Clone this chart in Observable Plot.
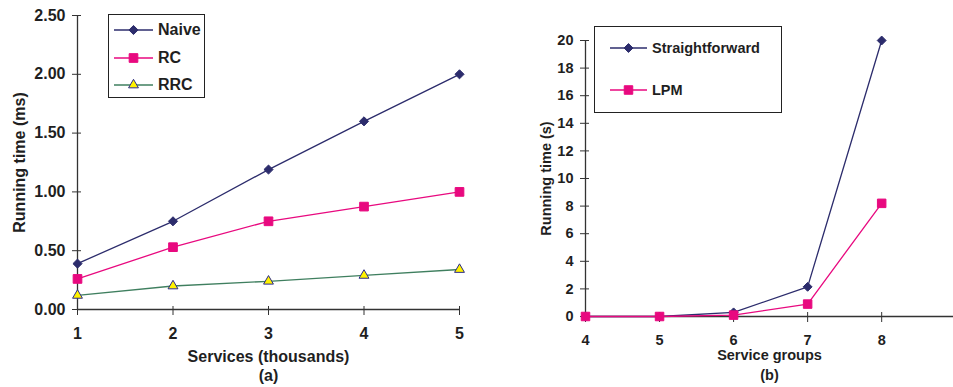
<!DOCTYPE html>
<html>
<head>
<meta charset="utf-8">
<script src="https://cdn.jsdelivr.net/npm/d3@7"></script>
<script src="https://cdn.jsdelivr.net/npm/@observablehq/plot@0.6"></script>
<style>
  html, body { margin: 0; padding: 0; background: #fff; }
  #wrap { position: relative; width: 953px; height: 387px; overflow: hidden; font-family: "Liberation Sans", Arial, sans-serif; font-weight: bold; color: #1f1f1f; }
  .panel { position: absolute; top: 0; }
  .legend { position: absolute; border: 1.5px solid #222; background: #fff; box-sizing: border-box; }
  .legend .row { position: absolute; display: flex; align-items: center; white-space: nowrap; }
  .legend svg { display: block; overflow: visible; }
</style>
</head>
<body>
<div id="wrap"></div>
<script>
// ---- Panel (a) data ----
const servicesK = [1, 2, 3, 4, 5];
const naive = [0.39, 0.75, 1.19, 1.60, 2.00];
const rc    = [0.26, 0.53, 0.75, 0.875, 1.00];
const rrc   = [0.12, 0.20, 0.24, 0.29, 0.34];
const seriesA = ["Naive", "RC", "RRC"];
const yTicksA = [0, 0.5, 1.0, 1.5, 2.0, 2.5];

// ---- Panel (b) data ----
const groups = [4, 5, 6, 7, 8];
const straightforward = [0, 0, 0.3, 2.15, 20.0];
const lpm             = [0, 0, 0.1, 0.9, 8.2];
const seriesB = ["Straightforward", "LPM"];
const yTicksB = [0, 2, 4, 6, 8, 10, 12, 14, 16, 18, 20];

// ---- styles ----
const NAVY = "#2c2c6c", PINK = "#e8097f", GREEN = "#3f7f5f", YELLOW = "#fff200", TRI_STROKE = "#2b2b8b";
const styleA = {
  Naive: {line: NAVY, symbol: "diamond2", fill: NAVY, stroke: NAVY, r: 4.1},
  RC:    {line: PINK, symbol: "square", fill: PINK, stroke: PINK, r: 4.9},
  RRC:   {line: GREEN, symbol: "triangle2", fill: YELLOW, stroke: TRI_STROKE, r: 4.7}
};
const styleB = {
  Straightforward: {line: NAVY, symbol: "diamond2", fill: NAVY, stroke: NAVY, r: 4.0},
  LPM:             {line: PINK, symbol: "square", fill: PINK, stroke: PINK, r: 4.8}
};

const dataA = [];
[naive, rc, rrc].forEach((vals, i) => servicesK.forEach((x, j) => dataA.push({series: seriesA[i], x, y: vals[j]})));
const dataB = [];
[straightforward, lpm].forEach((vals, i) => groups.forEach((x, j) => dataB.push({series: seriesB[i], x, y: vals[j]})));

const FONT = "'Liberation Sans', Arial, Helvetica, sans-serif";

function seriesMarks(data, names, styles) {
  const marks = [];
  for (const name of names) {
    const s = styles[name];
    const d = data.filter(e => e.series === name);
    marks.push(Plot.line(d, {x: "x", y: "y", stroke: s.line, strokeWidth: 1.3}));
    marks.push(Plot.dot(d, {x: "x", y: "y", symbol: () => s.symbol, r: s.r, fill: s.fill, stroke: s.stroke, strokeWidth: 1}));
  }
  return marks;
}

// ---- Panel (a) ----
const plotA = Plot.plot({
  width: 490, height: 387,
  marginLeft: 77, marginRight: 31, marginTop: 15, marginBottom: 78,
  style: {fontFamily: FONT, fontSize: "16px", fontWeight: "bold", color: "#1f1f1f", background: "transparent", overflow: "visible"},
  x: {domain: [1, 5]},
  y: {domain: [0, 2.5]},
  marks: [
    Plot.axisY({ticks: yTicksA, tickFormat: d3.format(".2f"), tickSize: 5, tickPadding: 7, stroke: "#333",
                label: "Running time (ms)", labelAnchor: "center", labelOffset: 64, labelArrow: "none"}),
    Plot.axisY({ticks: yTicksA, tickFormat: () => "", tickSize: -4, stroke: "#333", label: null}),
    Plot.axisX({ticks: servicesK, tickFormat: d => String(d), tickSize: 6, tickPadding: 12, stroke: "#333", label: null}),
    Plot.axisX({ticks: servicesK, tickFormat: () => "", tickSize: -3, stroke: "#333", label: null}),
    Plot.ruleX([1], {stroke: "#333", strokeWidth: 1.3}),
    Plot.ruleY([0], {stroke: "#333", strokeWidth: 1.3}),
    Plot.text(["Services (thousands)"], {frameAnchor: "bottom", lineAnchor: "top", dy: 41, fontSize: 16}),
    Plot.text(["(a)"], {frameAnchor: "bottom", lineAnchor: "top", dy: 60, fontSize: 16}),
    ...seriesMarks(dataA, seriesA, styleA)
  ]
});

// ---- Panel (b) ----
const plotB = Plot.plot({
  width: 463, height: 387,
  marginLeft: 95, marginRight: 0, marginTop: 40, marginBottom: 71,
  style: {fontFamily: FONT, fontSize: "14.5px", fontWeight: "bold", color: "#1f1f1f", background: "transparent", overflow: "visible"},
  x: {domain: [4, 8.97]},
  y: {domain: [0, 20]},
  marks: [
    Plot.axisY({ticks: yTicksB, tickFormat: d => String(d), tickSize: 5, tickPadding: 7, stroke: "#333",
                label: "Running time (s)", labelAnchor: "center", labelOffset: 45, labelArrow: "none"}),
    Plot.axisY({ticks: yTicksB, tickFormat: () => "", tickSize: -4, stroke: "#333", label: null}),
    Plot.axisX({ticks: groups, tickFormat: d => String(d), tickSize: 6, tickPadding: 12, stroke: "#333", label: null}),
    Plot.axisX({ticks: groups, tickFormat: () => "", tickSize: -4, stroke: "#333", label: null}),
    Plot.ruleX([4], {stroke: "#333", strokeWidth: 1.3}),
    Plot.ruleY([0], {stroke: "#333", strokeWidth: 1.3}),
    Plot.text(["Service groups"], {frameAnchor: "bottom", lineAnchor: "top", dy: 33, fontSize: 14.5}),
    Plot.text(["(b)"], {frameAnchor: "bottom", lineAnchor: "top", dy: 53, fontSize: 14.5}),
    ...seriesMarks(dataB, seriesB, styleB)
  ]
});

const wrap = document.getElementById("wrap");
plotA.classList.add("panel"); plotA.style.left = "0px";
plotB.classList.add("panel"); plotB.style.left = "490px";
wrap.appendChild(plotA);
wrap.appendChild(plotB);

// ---- Legends (HTML) ----
const symbolMap = {diamond2: d3.symbolDiamond2, square: d3.symbolSquare, triangle2: d3.symbolTriangle2};
function swatch(s, lineW) {
  const ns = "http://www.w3.org/2000/svg";
  const svg = document.createElementNS(ns, "svg");
  svg.setAttribute("width", lineW); svg.setAttribute("height", 14);
  const line = document.createElementNS(ns, "line");
  line.setAttribute("x1", 0); line.setAttribute("x2", lineW);
  line.setAttribute("y1", 7); line.setAttribute("y2", 7);
  line.setAttribute("stroke", s.line); line.setAttribute("stroke-width", 1.3);
  svg.appendChild(line);
  const p = document.createElementNS(ns, "path");
  p.setAttribute("d", d3.symbol(symbolMap[s.symbol], Math.PI * s.r * s.r)());
  p.setAttribute("transform", `translate(${lineW / 2},7)`);
  p.setAttribute("fill", s.fill); p.setAttribute("stroke", s.stroke); p.setAttribute("stroke-width", 1);
  svg.appendChild(p);
  return svg;
}
function legend(names, styles, box) {
  const div = document.createElement("div");
  div.className = "legend";
  Object.assign(div.style, {left: box.left + "px", top: box.top + "px", width: box.width + "px", height: box.height + "px"});
  names.forEach((name, i) => {
    const row = document.createElement("div");
    row.className = "row";
    row.style.left = box.padLeft + "px";
    row.style.top = (box.firstRow + i * box.rowGap - 8) + "px";
    row.style.height = "16px";
    row.style.fontSize = box.fontSize + "px";
    row.appendChild(swatch(styles[name], box.lineW));
    const t = document.createElement("span");
    t.textContent = name;
    t.style.marginLeft = box.gap + "px";
    row.appendChild(t);
    div.appendChild(row);
  });
  wrap.appendChild(div);
}
legend(seriesA, styleA, {left: 108, top: 14, width: 97, height: 84, padLeft: 5, firstRow: 15, rowGap: 27.5, lineW: 39, gap: 5, fontSize: 16});
legend(seriesB, styleB, {left: 594, top: 26, width: 188, height: 87, padLeft: 15, firstRow: 20.5, rowGap: 42.3, lineW: 37, gap: 5, fontSize: 14.5});
</script>
</body>
</html>
